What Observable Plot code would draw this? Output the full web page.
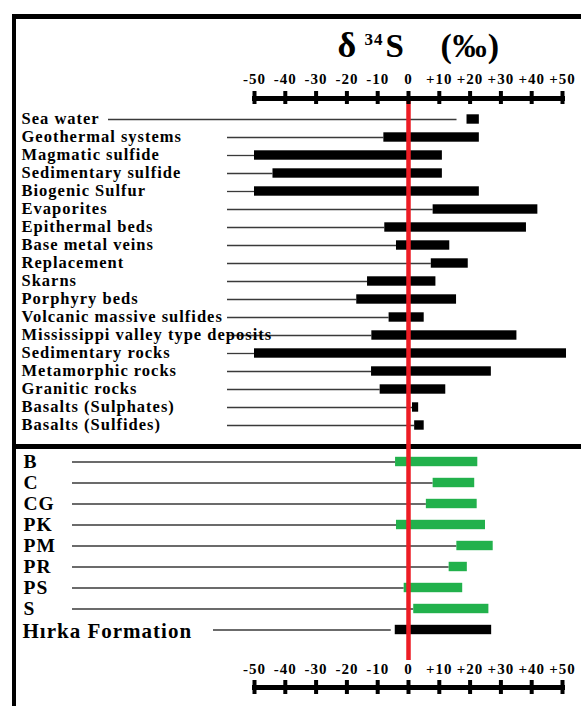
<!DOCTYPE html>
<html><head><meta charset="utf-8">
<script src="https://cdn.jsdelivr.net/npm/d3@7"></script>
<script src="https://cdn.jsdelivr.net/npm/@observablehq/plot@0.6"></script>
<style>
html,body{margin:0;padding:0;background:#fff;}
#page{position:relative;width:581px;height:706px;overflow:hidden;background:#fff;}
.rule{position:absolute;background:#000;}
.chart{position:absolute;left:0;}
</style></head><body>
<div id="page">
  <div class="rule" style="left:11.5px;top:13.5px;width:570px;height:5.5px"></div>
  <div class="rule" style="left:11.5px;top:13.5px;width:4.5px;height:693px"></div>
  <div class="rule" style="left:11.5px;top:443.5px;width:570px;height:5.5px"></div>
  <div id="c1" class="chart" style="top:0"></div>
  <div id="c2" class="chart" style="top:446px"></div>
</div>
<script>
// ---- data ----
const tickValues = [-50, -40, -30, -20, -10, 0, 10, 20, 30, 40, 50];

const upperNames = ["Sea water", "Geothermal systems", "Magmatic sulfide", "Sedimentary sulfide",
  "Biogenic Sulfur", "Evaporites", "Epithermal beds", "Base metal veins", "Replacement", "Skarns",
  "Porphyry beds", "Volcanic massive sulfides", "Mississippi valley type deposits", "Sedimentary rocks",
  "Metamorphic rocks", "Granitic rocks", "Basalts (Sulphates)", "Basalts (Sulfides)"];
const upperLow  = [19, -8, -50, -44, -50, 8, -7.7, -3.9, 7.4, -13.3, -16.8, -6.3, -11.9, -50, -12, -9.2, 1.3, 2];
const upperHigh = [23, 23, 11, 11, 23, 42, 38.3, 13.4, 19.4, 8.9, 15.6, 5.1, 35.2, 51.3, 26.9, 12.1, 3.3, 5.1];

const lowerNames = ["B", "C", "CG", "PK", "PM", "PR", "PS", "S", "Hırka Formation"];
const lowerLow  = [-4.2, 8, 5.8, -3.9, 15.7, 13.2, -1.4, 1.7, -4.3];
const lowerHigh = [22.5, 21.5, 22.3, 25, 27.5, 19.1, 17.6, 26.1, 27];
const lowerKind = ["sample", "sample", "sample", "sample", "sample", "sample", "sample", "sample", "formation"];

// ---- layout / styles ----
const W = 581, ML = 254, MR = 19;
const serif = "'Liberation Serif','Times New Roman',serif";
const svgStyle = "background:transparent;overflow:visible;letter-spacing:1px;";
const fmt = d => d > 0 ? `+${d}` : `${d}`;
const RED = "#ed1c24", GREEN = "#22b14c", LEAD = "#3a3a3a";

const upper = upperNames.map((name, i) => ({name, lo: upperLow[i], hi: upperHigh[i]}));
const lower = lowerNames.map((name, i) => ({name, lo: lowerLow[i], hi: lowerHigh[i], kind: lowerKind[i]}));
const samples = lower.filter(d => d.kind === "sample");
const formation = lower.filter(d => d.kind !== "sample");
const xMin = tickValues[0];

const H1 = 446, MT1 = 98;
const c1 = Plot.plot({
  width: W, height: H1, marginLeft: ML, marginRight: MR, marginTop: MT1, marginBottom: 0,
  style: svgStyle,
  x: {domain: [tickValues[0], tickValues[tickValues.length - 1]], axis: null},
  y: {type: "band", domain: upperNames, range: [108.9, 435.8], padding: 0, axis: null},
  marks: [
    Plot.ruleY(upper.filter(d => d.name === "Sea water"), {y: "name", x1: () => xMin, x2: "lo", insetLeft: -146, insetRight: 10, stroke: LEAD, strokeWidth: 1.3}),
    Plot.ruleY(upper.filter(d => d.name !== "Sea water"), {y: "name", x1: () => xMin, x2: "lo", insetLeft: -27, stroke: LEAD, strokeWidth: 1.3}),
    Plot.barX(upper, {y: "name", x1: "lo", x2: "hi", fill: "#000", insetTop: 4.3, insetBottom: 4.3}),
    Plot.text(upper, {y: "name", text: "name", frameAnchor: "left", dx: -233, dy: -1, textAnchor: "start",
      fontFamily: serif, fontWeight: "bold", fontSize: 16.5, fill: "#000"}),
    Plot.ruleX([0], {stroke: RED, strokeWidth: 4.5, insetTop: 2}),
    Plot.frame({anchor: "top", stroke: "#000", strokeWidth: 5}),
    Plot.ruleX(tickValues, {stroke: "#000", strokeWidth: 4, insetTop: -7, insetBottom: H1 - MT1 - 6}),
    Plot.text(tickValues, {x: d => d, text: fmt, frameAnchor: "top", dy: -14.5, lineAnchor: "bottom",
      fontFamily: serif, fontWeight: "bold", fontSize: 15, fill: "#000"}),
    Plot.text(["δ"], {text: d => d, frameAnchor: "top-left", dx: 83, dy: -42, textAnchor: "start", lineAnchor: "bottom",
      fontFamily: serif, fontWeight: "bold", fontSize: 36, fill: "#000"}),
    Plot.text(["34"], {text: d => d, frameAnchor: "top-left", dx: 110, dy: -54, textAnchor: "start", lineAnchor: "bottom",
      fontFamily: serif, fontWeight: "bold", fontSize: 17, fill: "#000"}),
    Plot.text(["S"], {text: d => d, frameAnchor: "top-left", dx: 131, dy: -42, textAnchor: "start", lineAnchor: "bottom",
      fontFamily: serif, fontWeight: "bold", fontSize: 33, fill: "#000"}),
    Plot.text(["(‰)"], {text: d => d, frameAnchor: "top-left", dx: 186, dy: -42, textAnchor: "start", lineAnchor: "bottom",
      fontFamily: serif, fontWeight: "bold", fontSize: 34, fill: "#000"})
  ]
});
document.getElementById("c1").append(c1);

const H2 = 260, MB2 = 19;
const c2 = Plot.plot({
  width: W, height: H2, marginLeft: ML, marginRight: MR, marginTop: 0, marginBottom: MB2,
  style: svgStyle,
  x: {domain: [tickValues[0], tickValues[tickValues.length - 1]], axis: null},
  y: {type: "band", domain: lowerNames, range: [4.5, 193.8], padding: 0, axis: null},
  marks: [
    Plot.ruleY(samples, {y: "name", x1: () => xMin, x2: "lo", insetLeft: -182, stroke: LEAD, strokeWidth: 1.3}),
    Plot.ruleY(formation, {y: "name", x1: () => xMin, x2: "lo", insetLeft: -41, insetRight: 4, stroke: LEAD, strokeWidth: 1.3}),
    Plot.barX(lower, {y: "name", x1: "lo", x2: "hi", fill: d => d.kind === "sample" ? GREEN : "#000", insetTop: 5.8, insetBottom: 5.8}),
    Plot.text(samples, {y: "name", text: "name", frameAnchor: "left", dx: -231, dy: 0, textAnchor: "start",
      fontFamily: serif, fontWeight: "bold", fontSize: 19.5, fill: "#000"}),
    Plot.text(formation, {y: "name", text: "name", frameAnchor: "left", dx: -232, dy: 1.5, textAnchor: "start",
      fontFamily: serif, fontWeight: "bold", fontSize: 21, fill: "#000"}),
    Plot.ruleX([0], {stroke: RED, strokeWidth: 4.5, insetBottom: 27}),
    Plot.frame({anchor: "bottom", stroke: "#000", strokeWidth: 5}),
    Plot.ruleX(tickValues, {stroke: "#000", strokeWidth: 4, insetTop: H2 - MB2 - 7, insetBottom: -7}),
    Plot.text(tickValues, {x: d => d, text: fmt, frameAnchor: "bottom", dy: -14, lineAnchor: "bottom",
      fontFamily: serif, fontWeight: "bold", fontSize: 15, fill: "#000"})
  ]
});
document.getElementById("c2").append(c2);
</script>
</body></html>
